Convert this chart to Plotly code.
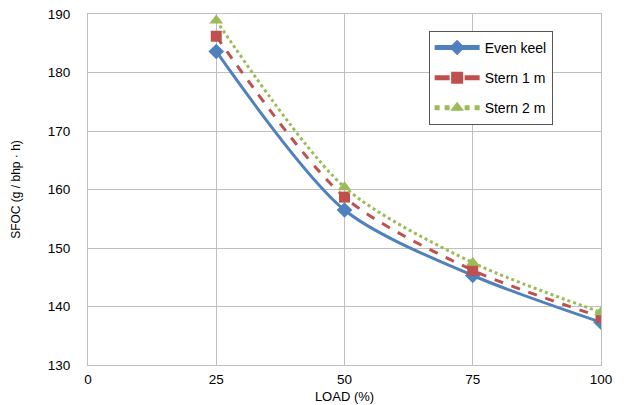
import plotly.graph_objects as go

load = [25, 50, 75, 100]
even_keel = [183.6, 156.5, 145.3, 137.3]
stern_1m = [186.2, 158.7, 146.2, 138.2]
stern_2m = [188.9, 160.4, 147.5, 139.0]

x_ticks = [0, 25, 50, 75, 100]
y_ticks = [130, 140, 150, 160, 170, 180, 190]

fig = go.Figure()
fig.add_trace(go.Scatter(x=load, y=even_keel, name="Even keel", mode="lines+markers", legendgroup="a",
                         line=dict(color="#4F81BD", width=3, shape="spline", smoothing=0.8),
                         marker=dict(symbol="diamond", size=12, color="#4F81BD")))
fig.add_trace(go.Scatter(x=load, y=stern_1m, name="Stern 1 m", mode="lines+markers", legendgroup="b",
                         line=dict(color="#C0504D", width=3, dash="dash", shape="spline", smoothing=0.8),
                         marker=dict(symbol="square", size=11, color="#C0504D")))
fig.add_trace(go.Scatter(x=load, y=stern_2m, name="Stern 2 m", mode="lines+markers", legendgroup="c",
                         line=dict(color="#9BBB59", width=3, dash="dot", shape="spline", smoothing=0.8),
                         marker=dict(symbol="triangle-up", size=12, color="#9BBB59")))

fig.update_layout(
    width=626, height=405,
    margin=dict(l=88, r=25, t=14, b=40),
    paper_bgcolor="white", plot_bgcolor="white",
    font=dict(family="Liberation Sans, Arial, sans-serif", size=14, color="black"),
    showlegend=True,
    legend=dict(x=0.664, y=0.952, xanchor="left", yanchor="top",
                bordercolor="#555555", borderwidth=1, bgcolor="white",
                font=dict(size=14), itemwidth=45, itemsizing="constant",
                traceorder="grouped", tracegroupgap=9),
    xaxis=dict(range=[0, 100], tickvals=x_ticks, showgrid=True, gridcolor="#BFBFBF",
               gridwidth=1, zeroline=False, showline=True, linecolor="#BFBFBF",
               mirror=True, ticks="outside", ticklen=2, tickcolor="white", automargin=False,
               tickfont=dict(size=13.5),
               title=dict(text="LOAD (%)", font=dict(size=13), standoff=5)),
    yaxis=dict(range=[130, 190], tickvals=y_ticks, showgrid=True, gridcolor="#BFBFBF",
               gridwidth=1, zeroline=False, showline=True, linecolor="#BFBFBF",
               mirror=True, ticks="outside", ticklen=14, tickcolor="white", automargin=False,
               tickfont=dict(size=13.5),
               title=dict(text="SFOC (g / bhp · h)", font=dict(size=12), standoff=24)),
)

fig.write_html("out.html")
